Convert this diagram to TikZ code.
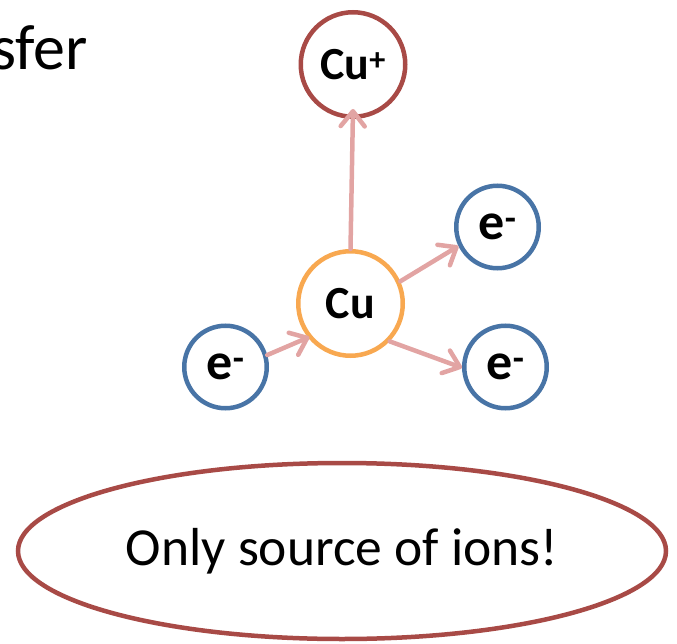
\documentclass[tikz,border=0pt]{standalone}
\usepackage{fontspec}
\setmainfont{Carlito}
\usetikzlibrary{arrows.meta,shapes.geometric}
\definecolor{ionred}{RGB}{168,74,70}
\definecolor{eblue}{RGB}{72,116,166}
\definecolor{cuorange}{RGB}{248,168,80}
\definecolor{arrowpink}{RGB}{226,164,163}
\newcommand{\lowlabel}[1]{\raisebox{-4.5pt}{#1}}
\tikzset{
  atom/.style={circle,draw,line width=4.5pt,inner sep=0pt,text=black,font=\fontsize{46}{55}\selectfont\bfseries},
  elec/.style={atom,draw=eblue,minimum size=82.5pt,font=\fontsize{52}{60}\selectfont\bfseries},
  flow/.style={draw=arrowpink,line width=4.5pt,line cap=round,-{Straight Barb[length=15pt,width=24pt,round]}},
}
\begin{document}
\begin{tikzpicture}[x=1pt,y=-1pt]
\useasboundingbox (0,0) rectangle (677,644);
\node[anchor=base east,inner sep=0pt,font=\fontsize{64}{76}\selectfont] (title) at (88,70) {sfer};
\node[atom,draw=ionred,minimum size=104.5pt] (cup) at (353,64.5) {\lowlabel{Cu\textsuperscript{+}}};
\node[atom,draw=cuorange,minimum size=104.5pt] (cu) at (350.5,303.5) {\lowlabel{Cu}};
\node[elec] (etr) at (497.5,227) {\lowlabel{e\textsuperscript{-}}};
\node[elec] (ebr) at (505.5,367) {\lowlabel{e\textsuperscript{-}}};
\node[elec] (ebl) at (225.5,367) {\lowlabel{e\textsuperscript{-}}};
\node[ellipse,draw=ionred,line width=4.5pt,minimum width=648pt,minimum height=176pt,inner sep=0pt,font=\fontsize{53.5}{64}\selectfont] (note) at (342,551) {Only source of ions!};
\draw[flow] (cu.north) -- ([yshift=10pt]cup.south);
\draw[flow] (cu.24) -- (etr.206);
\draw[flow] (cu.-44) -- (ebr.181);
\draw[flow] (ebl.16) -- ([shift={(4pt,-3pt)}]cu.214);
\end{tikzpicture}
\end{document}
